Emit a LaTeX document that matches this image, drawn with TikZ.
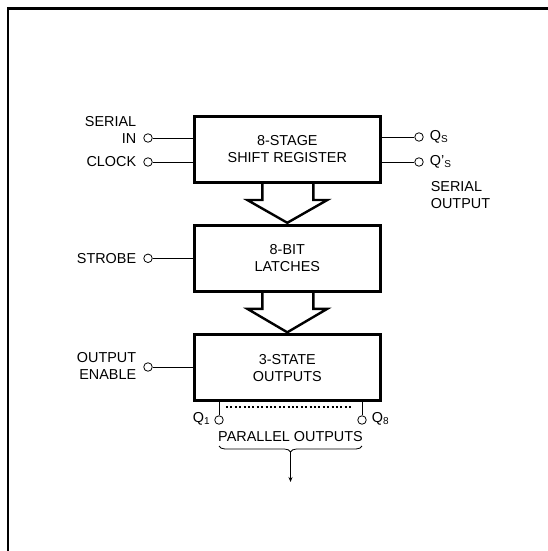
\documentclass[tikz,border=0pt]{standalone}
\usepackage{fontspec}
\setmainfont{Liberation Sans}
\usetikzlibrary{arrows.meta, positioning, calc, decorations.pathreplacing}

\begin{document}
\begin{tikzpicture}[
    x=1pt, y=-1pt,
    >=Stealth,
    every node/.style={font=\fontsize{14.4}{17}\selectfont},
    block/.style={
        draw=black, line width=3pt, minimum width=186.5pt,
        minimum height=66pt, align=center, inner sep=0pt
    },
    pin/.style={draw=black, circle, line width=0.8pt, fill=white,
        minimum size=8.5pt, inner sep=0pt},
    wire/.style={draw=black, line width=0.8pt},
    bus/.style={draw=black, line width=2.4pt, line join=miter},
    tag/.style={inner sep=0pt, align=right},
    dotrow/.style={draw=black, line width=1.8pt, dash pattern=on 2pt off 2.4pt},
    node distance=7pt
]
\useasboundingbox (0,0) rectangle (548,551);

% Frame
\draw[line width=2.6pt] (8,551) -- (8,8.7) -- (548,8.7);

% Blocks
\node[block] (sreg) at (287.3,149.5) {8-STAGE\\SHIFT REGISTER};
\node[block] (latch) at (287.3,258.3) {8-BIT\\LATCHES};
\node[block] (outbuf) at (287.3,367.8) {3-STATE\\OUTPUTS};

% Bus arrows
\foreach \src/\dst in {sreg/latch, latch/outbuf}
  \draw[bus] ($(\src.south)+(-25,-1)$) -- ++(0,17) -- ++(-15,0)
      -- ($(\dst.north)+(0,-1)$) -- ($(\src.south)+(40,16)$)
      -- ++(-14,0) -- ++(0,-17);

% Pins
\node[pin] (serin) at (148,138) {};
\node[pin] (clk) at (148,162) {};
\node[pin] (strobe) at (148,258.3) {};
\node[pin] (oe) at (148,367) {};
\node[pin] (qs) at (419,137) {};
\node[pin] (qsn) at (419,162) {};
\node[pin] (q1) at (219,420) {};
\node[pin] (q8) at (362,420) {};

% Wires
\draw[wire] (serin) -- (serin -| sreg.west);
\draw[wire] (clk) -- (clk -| sreg.west);
\draw[wire] (strobe) -- (strobe -| latch.west);
\draw[wire] (oe) -- (oe -| outbuf.west);
\draw[wire] (qs -| sreg.east) -- (qs);
\draw[wire] (qsn -| sreg.east) -- (qsn);
\draw[wire] (q1 |- outbuf.south) -- (q1);
\draw[wire] (q8 |- outbuf.south) -- (q8);
\draw[dotrow] ($(q1)+(7,-13)$) -- ($(q8)+(-11,-13)$);

% Labels
\node[tag, left=of serin, yshift=8pt] (serinlbl) {SERIAL\\IN};
\node[tag, left=of clk] (clklbl) {CLOCK};
\node[tag, left=of strobe] (strobelbl) {STROBE};
\node[tag, left=of oe, yshift=1.5pt] (oelbl) {OUTPUT\\ENABLE};
\node[tag, right=6pt of qs] (qslbl) {Q\textsubscript{S}};
\node[tag, right=6pt of qsn] (qsnlbl) {Q'\textsubscript{S}};
\node[tag, align=left, below right=19pt and 7pt of qsn.east] (serout)
    {SERIAL\\OUTPUT};
\node[tag, left=4pt of q1, yshift=1pt] (q1lbl) {Q\textsubscript{1}};
\node[tag, right=5pt of q8, yshift=1pt] (q8lbl) {Q\textsubscript{8}};
\node[inner sep=0pt] (parlbl) at ($(q1)!0.5!(q8)+(0,17)$) {PARALLEL OUTPUTS};

% Brace and output arrow
\coordinate (braceL) at ($(q1)+(0,26)$);
\coordinate (braceR) at ($(q8)+(0,26)$);
\draw[wire, decorate, decoration={brace, mirror, amplitude=6pt}]
    (braceL) -- (braceR);
\coordinate (bracetip) at ($(braceL)!0.5!(braceR)+(0,6)$);
\coordinate (parout) at ($(bracetip)+(0,30)$);
\draw[wire, -{Stealth[length=5pt, width=4pt]}] (bracetip) -- (parout);

\end{tikzpicture}
\end{document}
